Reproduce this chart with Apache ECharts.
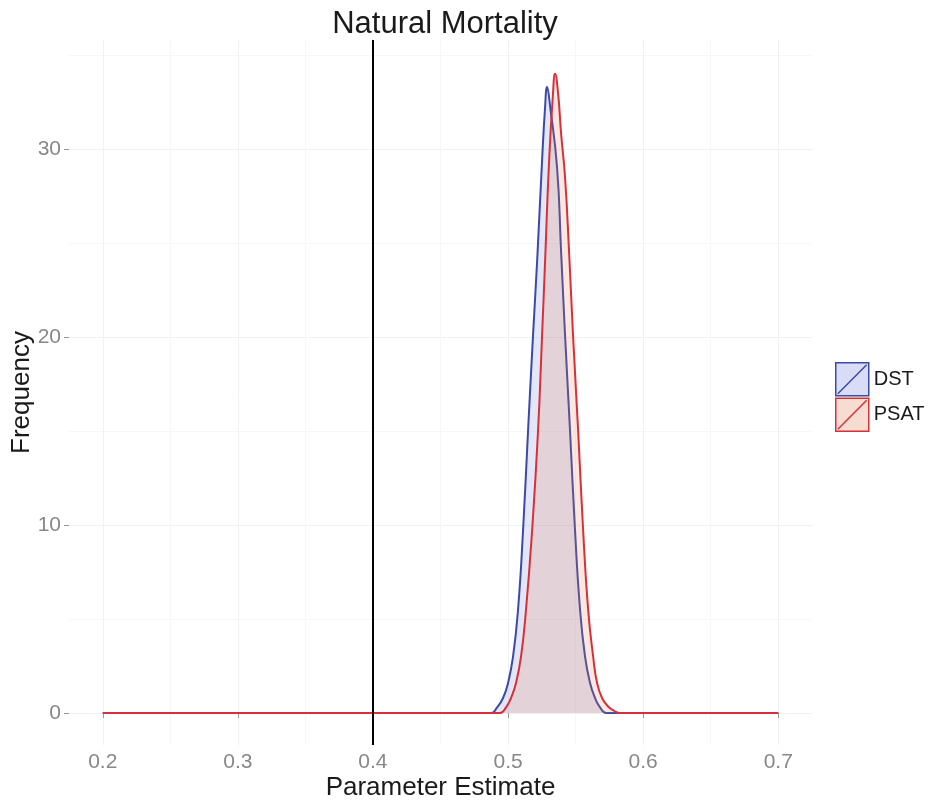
<!DOCTYPE html>
<html>
<head>
<meta charset="utf-8">
<script src="https://cdn.jsdelivr.net/npm/echarts@6/dist/echarts.min.js"></script>
<style>html,body{margin:0;padding:0;background:#fff}#c{width:932px;height:803px}</style>
</head>
<body>
<div id="c"></div>
<script>
const xTicks = [0.2, 0.3, 0.4, 0.5, 0.6, 0.7];
const xMinor = [0.25, 0.35, 0.45, 0.55, 0.65];
const yTicks = [0, 10, 20, 30];
const yMinor = [5, 15, 25, 35];
const refLine = 0.4;

const dstX = [0.2, 0.48, 0.4874, 0.4919, 0.4963, 0.5000, 0.5037, 0.5074, 0.5111, 0.5148, 0.5185, 0.5215, 0.5252, 0.5274, 0.5289, 0.5311, 0.5363, 0.5393, 0.5422, 0.5459, 0.5496, 0.5533, 0.5570, 0.5607, 0.5644, 0.5681, 0.5726, 0.58, 0.7];
const dstY = [0, 0, 0, 0.3, 0.8, 1.6, 3.0, 5.5, 9.7, 15.0, 20.1, 24.0, 29.4, 32.2, 33.3, 32.3, 29.0, 24.5, 20.1, 15.0, 9.7, 5.5, 3.0, 1.6, 0.8, 0.3, 0, 0, 0];

const psatX = [0.2, 0.488, 0.4941, 0.4985, 0.5022, 0.5059, 0.5096, 0.5133, 0.5178, 0.5222, 0.5252, 0.5274, 0.5304, 0.5333, 0.5348, 0.5370, 0.5393, 0.5422, 0.5452, 0.5481, 0.5519, 0.5556, 0.5593, 0.5630, 0.5659, 0.5696, 0.5741, 0.5785, 0.5830, 0.59, 0.7];
const psatY = [0, 0, 0, 0.3, 0.8, 1.6, 3.0, 5.5, 9.7, 15.0, 20.1, 24.0, 29.4, 33.0, 34.0, 33.0, 30.8, 28.5, 24.5, 20.1, 15.0, 9.7, 5.5, 3.0, 1.6, 0.8, 0.35, 0.12, 0, 0, 0];

const zip = (xs, ys) => xs.map((x, i) => [x, ys[i]]);

const FONT = "'Liberation Sans', Arial, sans-serif";
const DST_LINE = '#3b4aa6', DST_FILL = 'rgba(60,80,200,0.2)';
const PSAT_LINE = '#d8303b', PSAT_FILL = 'rgba(225,120,80,0.26)';
const GRID_C = '#f1f1f1';

const chart = echarts.init(document.getElementById('c'), null, {renderer: 'canvas'});
const grid = {left: 69, right: 120, top: 40, bottom: 58, containLabel: false, outerBoundsMode: 'none'};
const xBase = {type: 'value', min: 0.175, max: 0.725, gridIndex: 0};
const yBase = {type: 'value', min: -1.7, max: 35.8, gridIndex: 0};

chart.setOption({
  animation: false,
  backgroundColor: '#fff',
  title: {text: 'Natural Mortality', left: 440, textAlign: 'center', top: 4,
    textStyle: {fontFamily: FONT, fontSize: 31, fontWeight: 'normal', color: '#1a1a1a'}},
  grid: grid,
  legend: {
    orient: 'vertical', left: 830, top: 357, itemWidth: 33, itemHeight: 33, itemGap: 1,
    textStyle: {fontFamily: FONT, fontSize: 20, color: '#1a1a1a'},
    data: [
      {name: 'DST', icon: 'path://M0,0 L32,0 L32,32 L0,32 Z M2,30 L30,2',
        itemStyle: {color: DST_FILL, borderColor: DST_LINE, borderWidth: 1.5}},
      {name: 'PSAT', icon: 'path://M0,0 L32,0 L32,32 L0,32 Z M2,30 L30,2',
        itemStyle: {color: PSAT_FILL, borderColor: PSAT_LINE, borderWidth: 1.5}}
    ]
  },
  xAxis: [
    Object.assign({}, xBase, {
      name: 'Parameter Estimate', nameLocation: 'middle', nameGap: 30, nameMoveOverlap: false,
      nameTextStyle: {fontFamily: FONT, fontSize: 26, color: '#1a1a1a'},
      axisLine: {show: false},
      axisTick: {show: true, customValues: xTicks, length: 5, lineStyle: {color: '#999'}},
      axisLabel: {customValues: xTicks, fontFamily: FONT, fontSize: 21, color: '#888', margin: 7},
      splitLine: {show: true, lineStyle: {color: GRID_C, width: 1}}
    }),
    Object.assign({}, xBase, {
      axisLine: {show: false}, axisTick: {show: false, customValues: xMinor},
      axisLabel: {show: false, customValues: xMinor},
      splitLine: {show: true, lineStyle: {color: '#f7f7f7', width: 1}}
    })
  ],
  yAxis: [
    Object.assign({}, yBase, {
      name: 'Frequency', nameLocation: 'middle', nameGap: 34, nameRotate: 90, nameMoveOverlap: false,
      nameTextStyle: {fontFamily: FONT, fontSize: 26, color: '#1a1a1a'},
      axisLine: {show: false},
      axisTick: {show: true, customValues: yTicks, length: 5, lineStyle: {color: '#999'}},
      axisLabel: {customValues: yTicks, fontFamily: FONT, fontSize: 21, color: '#888', margin: 8},
      splitLine: {show: true, lineStyle: {color: GRID_C, width: 1}}
    }),
    Object.assign({}, yBase, {
      axisLine: {show: false}, axisTick: {show: false, customValues: yMinor},
      axisLabel: {show: false, customValues: yMinor},
      splitLine: {show: true, lineStyle: {color: '#f7f7f7', width: 1}}
    })
  ],
  series: [
    {name: 'DST', type: 'line', data: zip(dstX, dstY), xAxisIndex: 0, yAxisIndex: 0,
      smooth: 0.5, symbol: 'none',
      lineStyle: {color: DST_LINE, width: 2}, itemStyle: {color: DST_LINE},
      areaStyle: {color: DST_FILL, origin: 0}, z: 3,
      markLine: {silent: true, symbol: 'none', label: {show: false},
        lineStyle: {color: '#000', width: 2, type: 'solid'},
        data: [{xAxis: refLine}]}},
    {name: 'PSAT', type: 'line', data: zip(psatX, psatY), xAxisIndex: 0, yAxisIndex: 0,
      smooth: 0.5, symbol: 'none',
      lineStyle: {color: PSAT_LINE, width: 2}, itemStyle: {color: PSAT_LINE},
      areaStyle: {color: PSAT_FILL, origin: 0}, z: 4}
  ]
});
</script>
</body>
</html>
